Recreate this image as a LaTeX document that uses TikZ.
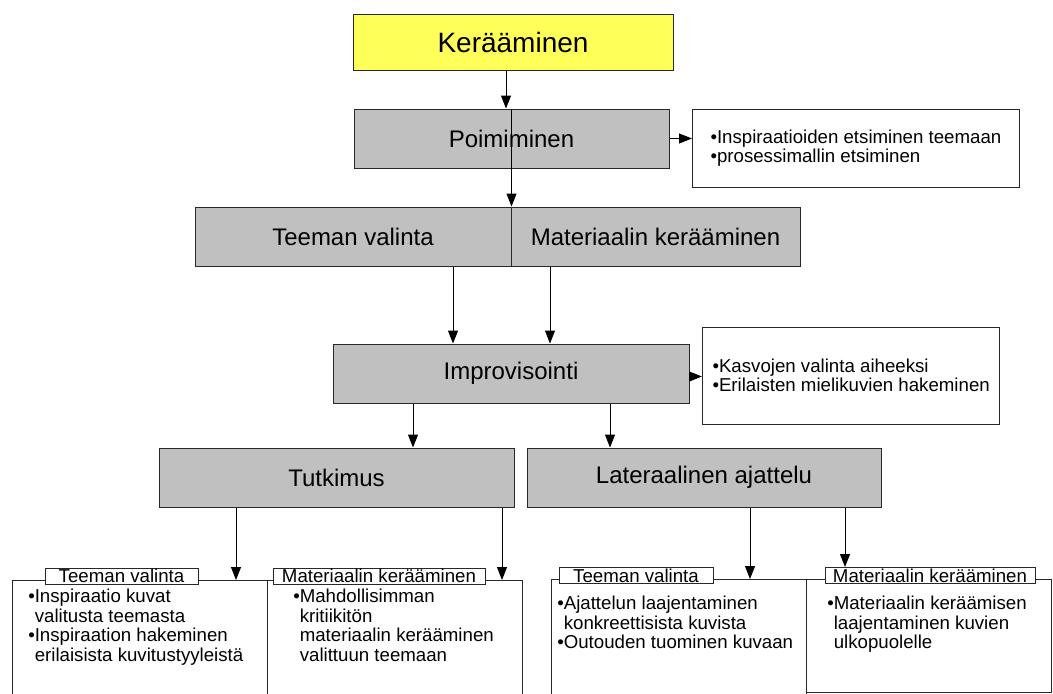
\documentclass[tikz,border=0pt]{standalone}
\usepackage{fontspec}
\setmainfont{Liberation Sans}
\usetikzlibrary{arrows.meta,calc,positioning}
\definecolor{boxgray}{RGB}{192,192,192}
\definecolor{keryellow}{RGB}{255,255,90}
\definecolor{linegray}{RGB}{40,40,40}
\tikzset{
    arr/.style={-{Triangle[length=9.75pt,width=7.5pt]}, draw=black, line width=0.75pt},
    boxsize/.style 2 args={minimum width=#1*0.75pt, minimum height=#2*0.75pt},
    mainbox/.style={draw=linegray, line width=0.75pt, fill=boxgray, inner sep=0pt, font=\fontsize{18}{21}\selectfont},
    sidebox/.style={draw=linegray, line width=0.75pt, fill=white, align=left, anchor=west, font=\fontsize{14}{14.6}\selectfont},
    notebox/.style={draw=linegray, line width=0.75pt, fill=white, anchor=north west, inner sep=0pt},
    tab/.style={draw=linegray, line width=0.75pt, fill=white, inner sep=0pt, font=\fontsize{14}{15}\selectfont},
    notetext/.style={anchor=north west, inner sep=0pt, align=left, font=\fontsize{14}{14.6}\selectfont}
}
\begin{document}
\begin{tikzpicture}[x=0.75pt,y=-0.75pt]
    \useasboundingbox (0,0) rectangle (1053,693);
    \node[mainbox, fill=keryellow, boxsize={320}{56}, font=\fontsize{21}{25}\selectfont] (kera) at (513,42) {Kerääminen};
    \node[mainbox, boxsize={315}{59}] (poim) at (511.5,138.5) {Poimiminen};
    \node[sidebox, minimum height=78*0.75pt, inner xsep=18*0.75pt] (side1) at (692,148) {•Inspiraatioiden etsiminen teemaan\\•prosessimallin etsiminen};
    \node[mainbox, boxsize={316}{59}] (teema) at (353,236.5) {Teeman valinta};
    \node[mainbox, boxsize={289}{59}] (mater) at (655.5,236.5) {Materiaalin kerääminen};
    \node[mainbox, boxsize={356}{59}] (impro) at (511,373.5) {Improvisointi};
    \node[sidebox, minimum height=97*0.75pt, inner xsep=10*0.75pt] (side2) at (702,375.5) {•Kasvojen valinta aiheeksi\\•Erilaisten mielikuvien hakeminen};
    \node[mainbox, boxsize={355}{59}] (tutk) at (336.5,477.5) {Tutkimus};
    \node[mainbox, boxsize={354}{59}] (later) at (704,477.5) {Lateraalinen ajattelu};
    % bottom boxes
    \node[notebox, boxsize={255}{140}] (b1) at (12,580) {};
    \node[notebox, boxsize={255}{140}] (b2) at (267,580) {};
    \node[notebox, boxsize={255}{140}] (b3) at (551,579) {};
    \node[notebox, boxsize={245}{113}] (b4) at (806,579) {};
    \node[tab, boxsize={153}{16}] (tab1) at (121.5,576) {Teeman valinta};
    \node[tab, boxsize={212}{16}] (tab2) at (379,576) {Materiaalin kerääminen};
    \node[tab, boxsize={154}{16}] (tab3) at (636,575.5) {Teeman valinta};
    \node[tab, boxsize={210}{16}] (tab4) at (930,575.5) {Materiaalin kerääminen};
    \node[notetext] (t1) at (28,589) {•Inspiraatio kuvat\\\phantom{•}valitusta teemasta\\•Inspiraation hakeminen\\\phantom{•}erilaisista kuvitustyyleistä};
    \node[notetext] (t2) at (293,589) {•Mahdollisimman\\\phantom{•}kritiikitön\\\phantom{•}materiaalin kerääminen\\\phantom{•}valittuun teemaan};
    \node[notetext] (t3) at (557,596) {•Ajattelun laajentaminen\\\phantom{•}konkreettisista kuvista\\•Outouden tuominen kuvaan};
    \node[notetext] (t4) at (827,596) {•Materiaalin keräämisen\\\phantom{•}laajentaminen kuvien\\\phantom{•}ulkopuolelle};
    % connectors
    \draw[arr] ($(kera.south)+(-7,0)$) -- ($(poim.north)+(-5.5,0)$);
    \draw[arr] (poim.north) -- (poim.north |- teema.north);
    \draw[arr] (poim.east) -- (poim.east -| side1.west);
    \draw[arr] ($(teema.south)+(100,0)$) coordinate (tv) -- (tv |- impro.north);
    \draw[arr] ($(mater.south)+(-105.5,0)$) coordinate (mk) -- (mk |- impro.north);
    \draw[arr] ($(impro.east)+(0,3)$) coordinate (ie) -- (ie -| side2.west);
    \draw[arr] ($(impro.south)+(-98,0)$) coordinate (i1) -- (i1 |- tutk.north);
    \draw[arr] ($(impro.south)+(99,0)$) coordinate (i2) -- (i2 |- later.north);
    \draw[arr] ($(tutk.south)+(-100.5,0)$) coordinate (u1) -- (u1 |- b1.north);
    \draw[arr] ($(tutk.south)+(165.5,0)$) coordinate (u2) -- (u2 |- b2.north);
    \draw[arr] ($(later.south)+(46,0)$) coordinate (l1) -- (l1 |- b3.north);
    \draw[arr] ($(later.south)+(141,0)$) coordinate (l2) -- (l2 |- tab4.north);
\end{tikzpicture}
\end{document}
